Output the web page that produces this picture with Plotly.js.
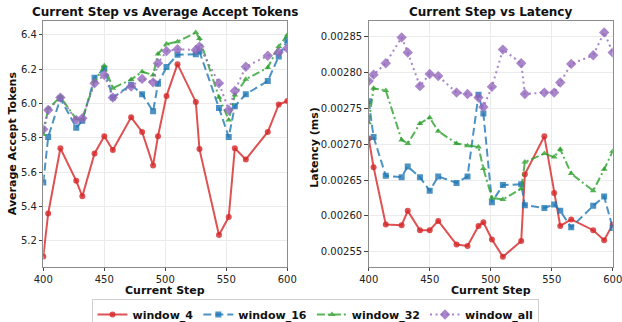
<!DOCTYPE html>
<html>
<head>
<meta charset="utf-8">
<script src="https://cdn.plot.ly/plotly-3.0.1.min.js"></script>
<style>
  html, body { margin: 0; padding: 0; background: #fff; overflow: hidden; }
  #wrap { width: 622px; height: 322px; overflow: hidden; }
  #chart { width: 622px; height: 340px; }
</style>
</head>
<body>
<div id="wrap"><div id="chart"></div></div>
<script>
// Steps at which the measurements were taken
const steps = [400, 404, 414, 427, 432, 442, 450, 457, 472, 481, 490, 494, 501, 510, 525, 528, 544, 552, 557, 566, 584, 593, 600];

// Average accept tokens per window size
const tokensW4   = [5.11, 5.36, 5.74, 5.55, 5.46, 5.71, 5.81, 5.73, 5.92, 5.835, 5.64, 5.81, 6.045, 6.23, 6.01, 5.735, 5.235, 5.34, 5.74, 5.675, 5.835, 5.995, 6.015];
const tokensW16  = [5.54, 5.805, 6.03, 5.86, 5.90, 6.15, 6.205, 6.035, 6.11, 6.055, 5.955, 6.115, 6.213, 6.285, 6.287, 6.303, 5.975, 5.805, 5.985, 6.055, 6.132, 6.275, 6.37];
const tokensW32  = [5.82, 5.97, 6.04, 5.91, 5.91, 6.13, 6.22, 6.09, 6.14, 6.186, 6.167, 6.289, 6.347, 6.361, 6.414, 6.38, 6.037, 5.905, 6.05, 6.142, 6.21, 6.332, 6.40];
const tokensAll  = [5.85, 5.963, 6.035, 5.905, 5.915, 6.119, 6.167, 6.035, 6.10, 6.144, 6.124, 6.235, 6.306, 6.317, 6.313, 6.332, 6.119, 5.963, 6.074, 6.215, 6.279, 6.299, 6.322];

// Latency (ms) per window size
const latW4  = [0.002708, 0.002668, 0.002588, 0.002587, 0.002607, 0.002580, 0.002580, 0.002593, 0.002560, 0.002558, 0.002586, 0.002591, 0.002567, 0.002543, 0.002565, 0.002658, 0.002711, 0.002632, 0.002586, 0.002595, 0.002580, 0.002566, 0.002588];
const latW16 = [0.002760, 0.002710, 0.002656, 0.002654, 0.002669, 0.002654, 0.002635, 0.002655, 0.002646, 0.002655, 0.002769, 0.002743, 0.002619, 0.002643, 0.002644, 0.002615, 0.002611, 0.002616, 0.002607, 0.002584, 0.002614, 0.002627, 0.002583];
const latW32 = [0.002730, 0.002778, 0.002775, 0.002706, 0.002701, 0.002729, 0.002737, 0.002718, 0.002701, 0.002698, 0.002696, 0.002666, 0.002625, 0.002623, 0.002638, 0.002675, 0.002687, 0.002682, 0.002693, 0.002659, 0.002635, 0.002665, 0.002690];
const latAll = [0.002788, 0.002797, 0.002813, 0.002849, 0.002828, 0.002781, 0.002798, 0.002795, 0.002772, 0.002770, 0.002765, 0.002752, 0.002780, 0.002832, 0.002813, 0.002770, 0.002772, 0.002772, 0.002786, 0.002812, 0.002824, 0.002856, 0.002828];

const seriesNames = ['window_4', 'window_16', 'window_32', 'window_all'];

// Tick values and labels
const stepTicks = [400, 450, 500, 550, 600];
const tokenTicks = [5.2, 5.4, 5.6, 5.8, 6.0, 6.2, 6.4];
const tokenTickText = ['5.2', '5.4', '5.6', '5.8', '6.0', '6.2', '6.4'];
const latTicks = [0.00255, 0.0026, 0.00265, 0.0027, 0.00275, 0.0028, 0.00285];
const latTickText = ['0.00255', '0.00260', '0.00265', '0.00270', '0.00275', '0.00280', '0.00285'];

// Per-series styling
const styles = [
  { color: 'rgba(214,39,40,0.8)',  dash: 'solid',            symbol: 'circle',      size: 6 },
  { color: 'rgba(31,119,180,0.8)', dash: '8px,4px',          symbol: 'square',      size: 6 },
  { color: 'rgba(44,160,44,0.8)',  dash: '8px,3px,2px,3px',  symbol: 'triangle-up', size: 6 },
  { color: 'rgba(148,103,189,0.8)',dash: '2px,3.5px',        symbol: 'diamond',     size: 8 }
];

const tokenSeries = [tokensW4, tokensW16, tokensW32, tokensAll];
const latSeries = [latW4, latW16, latW32, latAll];

function makeTrace(ys, i, xa, ya, inLegend) {
  const s = styles[i];
  return {
    x: steps, y: ys, type: 'scatter', mode: 'lines+markers',
    name: seriesNames[i], legendgroup: seriesNames[i], showlegend: inLegend,
    xaxis: xa, yaxis: ya,
    line: { color: s.color, width: 2, dash: s.dash },
    marker: { color: s.color, symbol: s.symbol, size: s.size, line: { width: 0 } }
  };
}

const traces = [];
tokenSeries.forEach((ys, i) => traces.push(makeTrace(ys, i, 'x', 'y', true)));
latSeries.forEach((ys, i) => traces.push(makeTrace(ys, i, 'x2', 'y2', false)));

const FONT = 'DejaVu Sans, sans-serif';
// The figure is drawn slightly taller than the visible frame so the legend
// box runs off the bottom edge.
const W = 622, H = 340;
const frame = {
  showline: true, mirror: true, linecolor: '#8c8c8c', linewidth: 1,
  showgrid: true, gridcolor: '#ebebeb', gridwidth: 1,
  zeroline: false,
  ticks: 'outside', ticklen: 3.5, tickwidth: 1, tickcolor: '#444',
  ticklabeloverflow: 'allow',
  tickfont: { family: FONT, size: 10, color: '#222' }
};

// Pixel helpers for paper-space placement (measured from the top-left)
const px = v => v / W;
const py = v => 1 - v / H;

function label(text, x, y, size, angle) {
  return {
    text: '<b>' + text + '</b>', xref: 'paper', yref: 'paper',
    x: px(x), y: py(y), xanchor: 'center', yanchor: 'middle', showarrow: false,
    textangle: angle || 0,
    font: { family: FONT, size: size, color: '#111' }
  };
}

const layout = {
  width: W, height: H,
  margin: { l: 0, r: 0, t: 0, b: 0 },
  paper_bgcolor: '#fff', plot_bgcolor: '#fff',
  font: { family: FONT, color: '#111' },
  xaxis: Object.assign({}, frame, {
    domain: [px(43.3), px(287.3)], range: [400, 600], tickvals: stepTicks, anchor: 'y'
  }),
  yaxis: Object.assign({}, frame, {
    domain: [py(266.7), py(20.7)], range: [5.05, 6.483],
    tickvals: tokenTicks, ticktext: tokenTickText, anchor: 'x'
  }),
  xaxis2: Object.assign({}, frame, {
    domain: [px(368.7), px(612.7)], range: [400, 600], tickvals: stepTicks, anchor: 'y2'
  }),
  yaxis2: Object.assign({}, frame, {
    domain: [py(266.7), py(20.7)], range: [0.0025291, 0.0028723],
    tickvals: latTicks, ticktext: latTickText, anchor: 'x2'
  }),
  annotations: [
    label('Current Step vs Average Accept Tokens', 165.3, 12, 12),
    label('Current Step vs Latency', 490.7, 12, 12),
    label('Current Step', 165.3, 290.5, 11),
    label('Current Step', 490.7, 290.5, 11),
    label('Average Accept Tokens', 12.5, 143.7, 11, -90),
    label('Latency (ms)', 313.7, 147, 11, -90)
  ],
  legend: {
    orientation: 'h', x: 0.508, xanchor: 'center', y: py(299), yanchor: 'top',
    bordercolor: '#cfcfcf', borderwidth: 1, bgcolor: '#fff',
    font: { family: FONT, size: 11, color: '#111', weight: 'bold' },
    itemwidth: 30, tracegroupgap: 0
  },
  showlegend: true
};

Plotly.newPlot('chart', traces, layout, { displayModeBar: false, staticPlot: true });
</script>
</body>
</html>
